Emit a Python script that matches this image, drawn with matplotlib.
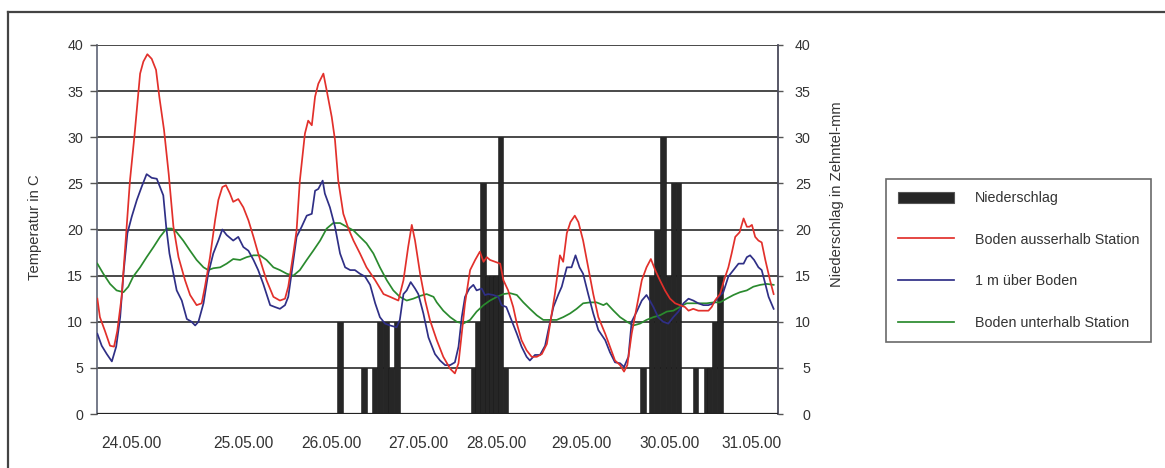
import matplotlib
matplotlib.use("Agg")
import matplotlib.pyplot as plt
from matplotlib import font_manager
from matplotlib.lines import Line2D
from matplotlib.patches import Patch

# ---------------- data (time in hours from start of record) ----------------
tick_hours = [9.4, 40.3, 64.6, 88.6, 110.2, 133.6, 158.2, 180.8]
tick_labels = ["24.05.00", "25.05.00", "26.05.00", "27.05.00",
               "28.05.00", "29.05.00", "30.05.00", "31.05.00"]

red_h = [0.1, 0.8, 2.2, 3.6, 4.7, 5.6, 6.8, 8.2, 9.1, 10.3, 11.9, 12.8, 13.9, 15.1, 16.3,
         17.2, 18.5, 19.8, 21.1, 22.5, 24.3, 25.7, 27.5, 28.9, 29.8, 31.2, 32.6, 33.5,
         34.6, 35.6, 36.7, 37.6, 39.0, 40.4, 41.8, 43.2, 44.5, 45.9, 46.8, 48.7, 50.5,
         51.9, 52.8, 54.2, 55.1, 56.0, 57.4, 58.3, 59.3, 60.2, 61.1, 62.5, 63.4, 64.8,
         65.7, 66.6, 68.0, 69.4, 70.8, 72.6, 74.4, 76.8, 79.1, 80.9, 83.2, 84.6, 85.9,
         86.9, 87.8, 89.2, 90.6, 91.9, 93.8, 95.6, 97.5, 98.8, 99.8, 100.7, 101.6, 103.0,
         104.4, 105.7, 106.7, 107.6, 108.5, 109.9, 111.3, 112.2, 113.5, 114.9, 115.9,
         117.2, 118.6, 120.0, 121.4, 122.8, 124.2, 125.1, 126.4, 127.8, 128.7, 129.7,
         130.7, 131.9, 132.9, 134.2, 135.6, 137.0, 138.4, 140.3, 141.6, 143.0, 144.4,
         145.5, 146.4, 147.6, 149.0, 150.4, 151.7, 152.9, 154.1, 155.4, 156.8, 158.2,
         159.6, 160.9, 162.3, 163.3, 164.6, 166.0, 167.4, 168.8, 169.7, 170.6, 172.0,
         173.1, 174.3, 175.2, 176.2, 177.4, 178.5, 179.4, 180.1, 180.8, 181.7, 182.6,
         183.5, 184.5, 185.8, 186.8]
red_v = [12.5, 10.5, 9.0, 7.4, 7.3, 9.0, 12.7, 20.3, 25.3, 30.0, 36.9, 38.2, 39.0, 38.5, 37.3,
         34.4, 30.8, 26.0, 20.3, 17.0, 14.5, 12.9, 11.8, 12.0, 13.8, 17.0, 21.0, 23.2,
         24.6, 24.8, 23.9, 23.0, 23.3, 22.4, 21.0, 19.2, 17.4, 15.6, 14.5, 12.7, 12.3,
         12.5, 13.8, 17.4, 19.9, 25.3, 30.4, 31.8, 31.3, 34.4, 35.8, 36.9, 35.1, 32.2,
         29.7, 25.3, 21.7, 20.1, 18.8, 17.4, 15.9, 14.5, 13.0, 12.7, 12.3, 14.5, 18.1,
         20.5, 18.8, 15.2, 12.3, 10.2, 8.0, 6.2, 4.9, 4.4, 5.5, 8.7, 12.0, 15.6,
         16.7, 17.6, 16.5, 17.0, 16.7, 16.5, 16.3, 14.5, 13.4, 11.6, 9.8,
         8.0, 6.9, 6.2, 6.2, 6.5, 7.6, 9.8, 13.0, 17.2, 16.5, 19.6,
         20.8, 21.5, 20.8, 18.8, 15.9, 13.0, 10.5, 8.7, 7.3, 5.8, 5.3,
         4.6, 5.3, 8.7, 11.6, 14.5, 15.9, 16.8, 15.6, 14.5, 13.4, 12.5,
         12.0, 11.8, 11.6, 11.2, 11.4, 11.2, 11.2, 11.2, 11.6, 12.3, 13.0,
         14.5, 15.9, 17.4, 19.2, 19.7, 21.2, 20.3, 20.3, 20.5, 19.2, 18.8,
         18.6, 16.7, 14.5, 13.0]

blue_h = [0.1, 1.3, 2.7, 4.1, 5.3, 6.4, 7.3, 8.4, 9.6, 11.0, 12.3, 13.7, 15.1, 16.5, 17.4,
          18.3, 19.1, 20.0, 21.1, 22.0, 23.4, 24.8, 26.1, 27.1, 28.0, 29.4, 30.7, 32.1,
          33.5, 34.6, 35.8, 37.6, 39.0, 40.4, 41.8, 43.2, 44.5, 45.9, 47.8, 49.1, 50.5,
          51.9, 52.8, 53.7, 55.1, 56.5, 57.9, 59.3, 60.2, 61.1, 62.3, 62.9, 64.3, 65.7,
          67.1, 68.5, 69.9, 71.2, 72.6, 74.0, 75.4, 76.8, 78.1, 79.5, 80.9, 82.7, 83.6,
          84.6, 85.5, 86.6, 87.8, 88.7, 90.1, 91.5, 93.3, 94.7, 96.1, 97.5, 98.8, 99.8,
          100.7, 101.6, 102.8, 103.9, 104.8, 106.2, 107.1, 108.0, 109.4, 110.8, 111.7,
          113.0, 114.4, 115.9, 117.2, 118.6, 119.5, 120.9, 122.3, 123.7, 124.6, 126.0,
          127.4, 128.3, 129.7, 131.0, 132.1, 133.2, 134.2, 135.6, 137.0, 138.4, 140.3,
          141.6, 143.0, 144.4, 145.5, 146.7, 147.6, 149.0, 150.4, 151.7, 152.6, 153.6,
          154.9, 156.3, 157.7, 159.1, 160.5, 161.9, 163.3, 164.6, 166.0, 167.4, 168.8,
          170.2, 171.6, 172.9, 174.3, 175.7, 177.1, 178.5, 179.4, 180.3, 181.4, 182.6,
          183.5, 184.5, 185.4, 186.8]
blue_v = [8.7, 7.4, 6.5, 5.7, 7.3, 10.5, 15.2, 19.6, 21.4, 23.2, 24.6, 26.0, 25.6, 25.5, 24.6,
          23.7, 20.3, 17.4, 15.2, 13.4, 12.3, 10.3, 10.0, 9.6, 10.0, 12.0, 15.2, 17.4,
          18.8, 20.0, 19.4, 18.8, 19.2, 18.1, 17.7, 16.7, 15.6, 14.1, 11.8, 11.6, 11.4,
          11.8, 12.7, 15.2, 19.2, 20.3, 21.5, 21.7, 24.2, 24.4, 25.3, 23.9, 22.4, 20.3,
          17.4, 15.9, 15.6, 15.6, 15.2, 14.9, 14.0, 12.0, 10.5, 9.8, 9.6, 9.4, 10.2,
          13.0, 13.4, 14.3, 13.6, 13.0, 10.9, 8.3, 6.5, 5.8, 5.3, 5.3, 5.6, 7.3,
          10.5, 12.7, 13.6, 14.0, 13.4, 13.6, 12.9, 13.0, 12.9, 12.7, 11.8,
          11.6, 10.2, 8.7, 7.3, 6.2, 5.8, 6.4, 6.4, 7.4, 9.1, 11.6,
          13.0, 13.8, 15.9, 15.9, 17.2, 15.9, 15.2, 13.0, 10.9, 9.1, 8.0,
          6.7, 5.6, 5.5, 5.1, 6.2, 10.0, 11.1, 12.3, 12.9, 12.3, 11.6,
          10.5, 10.0, 9.8, 10.5, 11.1, 12.0, 12.5, 12.3, 12.0, 11.8, 11.8,
          12.0, 12.7, 13.2, 14.9, 15.6, 16.3, 16.3, 17.0, 17.2, 16.7, 15.9,
          15.6, 14.1, 12.7, 11.4]

green_h = [0.1, 1.75, 3.6, 5.4, 7.3, 8.65, 10.0, 11.9, 13.7, 15.6, 17.4, 19.2, 20.6, 22.0,
           23.8, 25.7, 27.5, 29.4, 30.7, 32.1, 34.0, 35.8, 37.6, 39.5, 41.3, 43.2, 45.0,
           46.8, 48.7, 50.5, 52.4, 54.2, 56.0, 57.9, 59.7, 61.6, 63.4, 65.2, 67.1, 68.9,
           70.8, 72.6, 74.4, 76.3, 78.1, 80.0, 81.8, 83.6, 85.5, 87.3, 89.2, 91.0, 92.9,
           93.8, 95.6, 97.5, 99.3, 101.1, 103.0, 104.8, 106.7, 108.5, 110.4, 112.2, 114.0,
           115.9, 117.7, 119.5, 121.4, 123.2, 125.1, 126.9, 128.7, 130.6, 132.4, 134.2,
           136.1, 137.9, 139.8, 140.7, 142.6, 144.4, 146.3, 148.1, 149.9, 151.7, 153.6,
           155.4, 157.3, 159.1, 160.9, 162.8, 164.6, 166.5, 168.3, 170.2, 172.0, 173.8,
           175.7, 177.5, 179.4, 181.2, 183.1, 184.9, 186.8]
green_v = [16.3, 15.2, 14.1, 13.4, 13.2, 13.8, 14.9, 15.9, 17.0, 18.1, 19.2, 20.1, 20.1, 19.7,
           18.8, 17.7, 16.7, 15.9, 15.6, 15.8, 15.9, 16.3, 16.8, 16.7, 17.0, 17.2, 17.2,
           16.7, 15.9, 15.6, 15.2, 15.0, 15.6, 16.7, 17.7, 18.8, 20.1, 20.7, 20.7, 20.3,
           19.9, 19.2, 18.5, 17.4, 15.9, 14.5, 13.4, 12.7, 12.3, 12.5, 12.8, 13.0, 12.7,
           12.1, 11.2, 10.5, 10.0, 9.8, 10.2, 11.1, 11.8, 12.3, 12.7, 13.0, 13.1,
           12.9, 12.1, 11.4, 10.7, 10.2, 10.2, 10.2, 10.5, 10.9, 11.4, 12.0,
           12.1, 12.1, 11.8, 12.0, 11.2, 10.5, 10.0, 9.6, 9.8, 10.2, 10.5,
           10.7, 11.1, 11.2, 11.6, 12.0, 12.0, 12.0, 12.0, 12.1, 12.1, 12.5,
           12.9, 13.2, 13.4, 13.8, 14.0, 14.1, 14.0]

rain_h = [67.1, 73.7, 76.6, 78.1, 79.8, 81.2, 82.8,
          103.9, 105.2, 106.6, 107.8, 109.1, 110.2, 111.4, 112.8,
          150.7, 153.1, 154.6, 156.3, 157.7, 159.2, 160.5, 165.2, 168.3, 169.1, 170.5, 172.0]
rain_v = [10, 5, 5, 10, 10, 5, 10,
          5, 10, 25, 15, 15, 15, 30, 5,
          5, 15, 20, 30, 15, 25, 25, 5, 5, 5, 10, 15]

labels = ["Niederschlag", "Boden ausserhalb Station", "1 m über Boden", "Boden unterhalb Station"]

# ---------------- style ----------------
names = {f.name for f in font_manager.fontManager.ttflist}
narrow = "Liberation Sans Narrow" in names
fam = "Liberation Sans Narrow" if narrow else "Liberation Sans"
plt.rcParams["font.family"] = [fam, "DejaVu Sans"]
if narrow:
    FS_Y, FS_X, FS_LAB, FS_LEG = 12.0, 13.0, 12.3, 12.5
else:
    FS_Y, FS_X, FS_LAB, FS_LEG = 10.3, 11.2, 10.6, 10.3
TXT = "#333333"
RED = "#e2302b"
BLUE = "#2f2f86"
GREEN = "#2a8a2e"
BAR = "#262626"

W, H = 1165, 468
fig = plt.figure(figsize=(W / 100, H / 100), dpi=100)
fig.patch.set_facecolor("white")

L, R, T, B = 97, 778, 45, 414
ax2 = fig.add_axes([L / W, 1 - B / H, (R - L) / W, (B - T) / H])
ax = ax2.twinx()
ax.set_zorder(ax2.get_zorder() + 1)
ax.patch.set_visible(False)

# precipitation bars (right axis, behind)
ax2.bar(rain_h, rain_v, width=1.5, color=BAR, edgecolor="#1a1a1a", linewidth=0.4, zorder=3)
ax2.set_ylim(0, 40)
ax2.set_xlim(0, 188)
ax2.set_yticks(range(0, 41, 5))
for y in range(5, 41, 5):
    ax2.axhline(y, color="#3a3a3a", lw=1.3, zorder=1)
ax2.axhline(0, color="#222222", lw=1.6, zorder=4)

# temperature lines (left axis, front)
ax.plot(green_h, green_v, color=GREEN, lw=1.25)
ax.plot(blue_h, blue_v, color=BLUE, lw=1.25)
ax.plot(red_h, red_v, color=RED, lw=1.25)
ax.set_ylim(0, 40)
ax.set_xlim(0, 188)
ax.set_yticks(range(0, 41, 5))

ax.yaxis.tick_left()
ax2.yaxis.tick_right()
for a in (ax, ax2):
    for s in ("top", "bottom"):
        a.spines[s].set_visible(False)
ax.spines["left"].set_visible(False)
ax.spines["right"].set_visible(False)
ax2.spines["left"].set_color("#6a7080")
ax2.spines["left"].set_linewidth(1.3)
ax2.spines["right"].set_color("#4a4a5a")
ax2.spines["right"].set_linewidth(1.3)

ax.tick_params(axis="y", left=True, right=False, labelleft=True, labelright=False,
               length=5, width=1, color="#555555", pad=5, labelsize=FS_Y, labelcolor=TXT)
ax2.tick_params(axis="y", left=False, right=True, labelleft=False, labelright=True,
                length=3.5, width=1, color="#555555", pad=20, labelsize=FS_Y, labelcolor=TXT)
for lab in ax2.get_yticklabels():
    lab.set_horizontalalignment("right")

ax2.set_xticks(tick_hours)
ax2.set_xticklabels(tick_labels)
ax2.tick_params(axis="x", length=0, pad=16, labelsize=FS_X, labelcolor=TXT)
ax.tick_params(axis="x", bottom=False, labelbottom=False)

fig.text(35 / W, 1 - 227 / H, "Temperatur in C", rotation=90, ha="center", va="center",
         fontsize=FS_LAB, color=TXT)
fig.text(837 / W, 1 - 194 / H, "Niederschlag in Zehntel-mm", rotation=90, ha="center",
         va="center", fontsize=FS_LAB, color=TXT)

# legend
handles = [Patch(facecolor=BAR, edgecolor="#555555", linewidth=0.8),
           Line2D([], [], color=RED, lw=1.25),
           Line2D([], [], color=BLUE, lw=1.25),
           Line2D([], [], color=GREEN, lw=1.25)]
leg = fig.legend(handles, labels, loc="upper left",
                 bbox_to_anchor=(886 / W, 1 - 179 / H),
                 bbox_transform=fig.transFigure,
                 frameon=True, fancybox=False, fontsize=FS_LEG,
                 handlelength=3.9, handleheight=0.85, handletextpad=1.45,
                 labelspacing=1.93, borderpad=0.85, borderaxespad=0)
leg.get_frame().set_edgecolor("#444444")
leg.get_frame().set_linewidth(1.2)
for t in leg.get_texts():
    t.set_color(TXT)

# outer frame of the chart
fig.add_artist(Line2D([8 / W, 8 / W], [0, 1 - 12 / H], transform=fig.transFigure,
                      color="#444444", lw=1.6))
fig.add_artist(Line2D([8 / W, 1], [1 - 12 / H, 1 - 12 / H], transform=fig.transFigure,
                      color="#444444", lw=1.6))

fig.savefig("out.png", dpi=100, facecolor="white")
